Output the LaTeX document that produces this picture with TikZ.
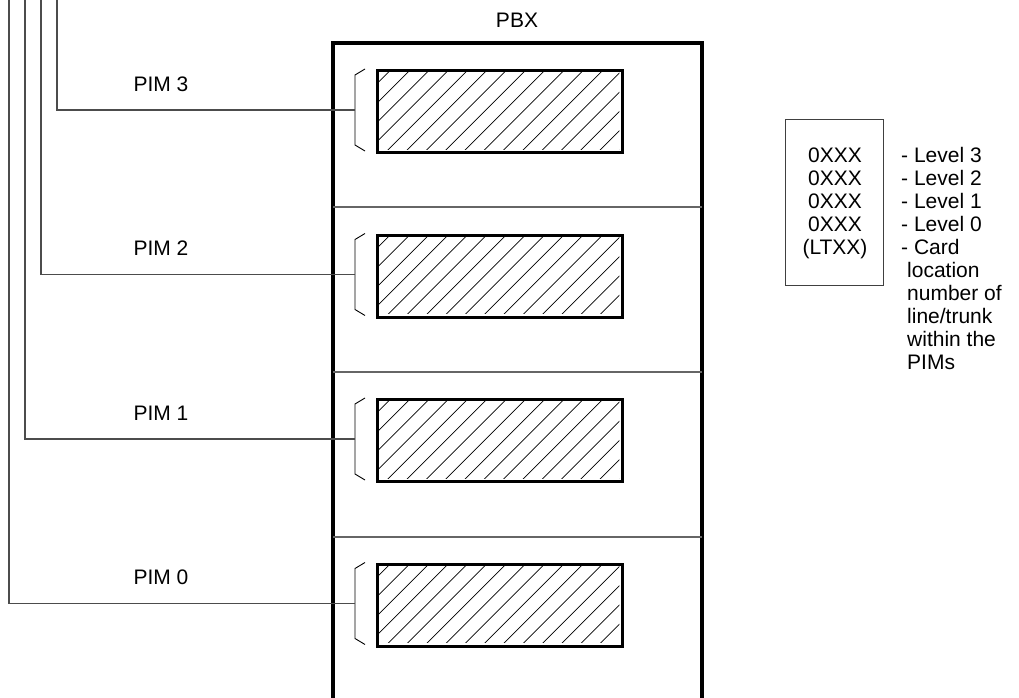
\documentclass[tikz,border=0pt]{standalone}
\usepackage{fontspec}
\setmainfont{Liberation Sans}
\begin{document}
\begin{tikzpicture}[x=1pt,y=-1pt,
  thinline/.style={draw=black!70, line width=1.1pt},
  divline/.style={draw=black!60, line width=1.1pt},
  frameline/.style={draw=black, line width=3.2pt, line join=miter},
  cardbox/.style={draw=black, line width=3.2pt, minimum width=245pt, minimum height=82pt, anchor=north west, inner sep=0pt},
  hatchline/.style={draw=black, line width=0.7pt},
  braceline/.style={draw=black, line width=0.9pt},
  lbl/.style={font=\fontsize{21}{23}\selectfont, inner sep=0pt},
]
\useasboundingbox (0,0) rectangle (1019,698);

% PBX frame (open at the bottom, runs off the picture)
\draw[frameline] (333,705) -- (333,43) -- (702,43) -- (702,705);
\node[lbl] (pbx) at (517,20) {PBX};

% dividers between the PIMs
\foreach \k in {0,1,2}{
  \pgfmathsetmacro\dy{207+165*\k}
  \draw[divline] (333,\dy) -- (702,\dy);
}

% PIM modules
\foreach \k in {0,1,2,3}{
  \pgfmathsetmacro\my{110+164.5*\k}
  \pgfmathsetmacro\vx{57-16*\k}
  \pgfmathtruncatemacro\n{3-\k}
  % card
  \node[cardbox] (card\k) at (376,\my-41) {};
  \begin{scope}
    \clip (377.6,\my-39.4) rectangle (619.4,\my+39.4);
    \foreach \j in {-1,...,17}{
      \pgfmathsetmacro\c{391.7+19.3*\j}
      \draw[hatchline] (\c-100,\my+59) -- (\c+10,\my-51);
    }
  \end{scope}
  % brace
  \draw[braceline] (365,\my-41) -- (355,\my-35) -- (355,\my+35) -- (365,\my+41);
  \coordinate (b\k) at (355,\my);
  % connector
  \coordinate (top\k) at (\vx,-2);
  \draw[thinline] (top\k) |- (b\k);
  % label
  \node[lbl] (pim\k) at (161,\my-26) {PIM \n};
}

% legend
\node[draw=black!75, line width=1pt, minimum width=98pt, minimum height=166pt, anchor=north west, inner sep=0pt] (legend) at (785,119) {};
\node[lbl, align=center, anchor=north] (codes) at (835,147.5) {0XXX\\0XXX\\0XXX\\0XXX\\(LTXX)};
\node[lbl, align=left, anchor=north west] (levels) at (901,147.5) {- Level 3\\- Level 2\\- Level 1\\- Level 0\\- Card\\\hspace*{6pt}location\\\hspace*{6pt}number of\\\hspace*{6pt}line/trunk\\\hspace*{6pt}within the\\\hspace*{6pt}PIMs};
\end{tikzpicture}
\end{document}
